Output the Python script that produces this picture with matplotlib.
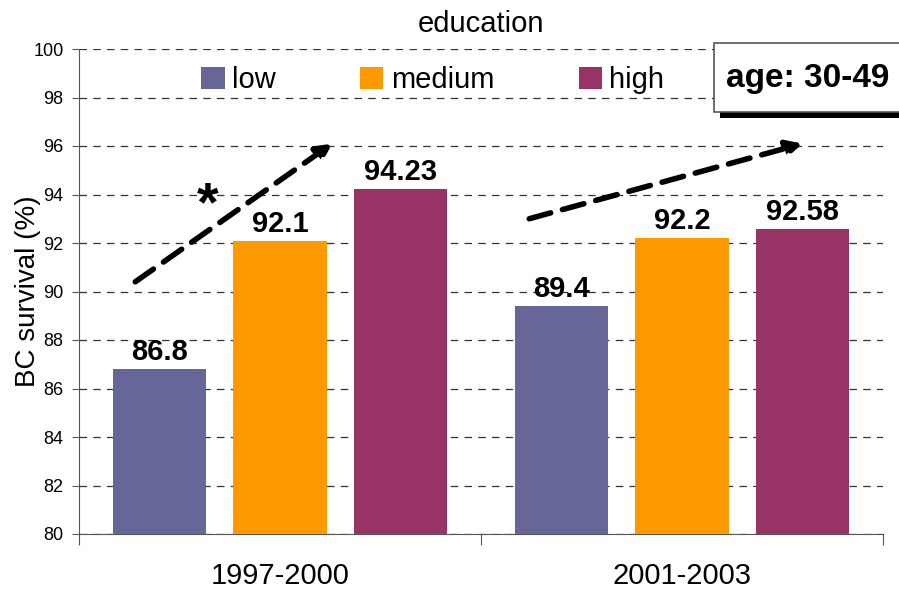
import matplotlib
matplotlib.use("Agg")
import matplotlib.pyplot as plt
import numpy as np

plt.rcParams['font.family'] = ['Liberation Sans', 'DejaVu Sans']

periods = ["1997-2000", "2001-2003"]
levels = ["low", "medium", "high"]
values = {
    "low": [86.8, 89.4],
    "medium": [92.1, 92.2],
    "high": [94.23, 92.58],
}
labels_txt = {
    "low": ["86.8", "89.4"],
    "medium": ["92.1", "92.2"],
    "high": ["94.23", "92.58"],
}
colors = {"low": "#666699", "medium": "#FF9900", "high": "#993366"}
yticks = [80, 82, 84, 86, 88, 90, 92, 94, 96, 98, 100]

# trend arrows (data coords)
arrow1 = [(-0.36, 90.4), (0.13, 96.1)]
arrow2 = [(0.62, 93.0), (1.30, 96.1)]

fig = plt.figure(figsize=(8.99, 5.89), dpi=100)
ax = fig.add_axes([79/899, 1-534/589, (883-79)/899, (534-49)/589])

x = np.arange(len(periods))
offsets = [-0.30, 0.0, 0.30]
width = 0.232
for off, lv in zip(offsets, levels):
    bars = ax.bar(x + off, values[lv], width, bottom=0, color=colors[lv], label=lv, zorder=3)
    for b, t in zip(bars, labels_txt[lv]):
        ax.annotate(t, (b.get_x() + b.get_width()/2, b.get_height()),
                    xytext=(0, 2), textcoords="offset points",
                    ha="center", va="bottom", fontsize=21, fontweight="bold", zorder=5)

ax.set_ylim(80, 100)
ax.set_xlim(-0.5, 1.5)
ax.set_yticks(yticks)
ax.set_yticklabels([str(v) for v in yticks], fontsize=13)
ax.yaxis.grid(True, linestyle=(0, (6, 5)), color="#333333", linewidth=0.9, zorder=0)
ax.set_axisbelow(True)
ax.set_xticks([-0.5, 0.5, 1.5], minor=False)
ax.set_xticklabels(["", "", ""])
ax.set_xticks(x, minor=True)
ax.set_xticklabels(periods, minor=True, fontsize=21)
ax.tick_params(axis="x", which="minor", length=0, pad=20)
ax.tick_params(axis="x", which="major", length=8, color="#555555")
ax.tick_params(axis="y", length=5, color="#555555", pad=6)
for s in ["top", "right"]:
    ax.spines[s].set_visible(False)
ax.spines["left"].set_color("#555555")
ax.spines["bottom"].set_color("#555555")
ax.set_ylabel("BC survival (%)", fontsize=20)
ax.yaxis.set_label_coords(-0.064, 0.5)
ax.yaxis.label.set_verticalalignment("center")
ax.set_title("education", fontsize=21, pad=12)

for (p0, p1) in [arrow1, arrow2]:
    ax.annotate("", xy=p1, xytext=p0,
                arrowprops=dict(arrowstyle="-|>,head_length=0.9,head_width=0.45",
                                linestyle=(0, (4, 2.2)), linewidth=4, color="black",
                                shrinkA=0, shrinkB=0), zorder=6)
ax.text(-0.18, 93.5, "*", fontsize=40, fontweight="bold", ha="center", va="center", zorder=6)

leg = ax.legend(loc="center", bbox_to_anchor=(0.44, 0.936), ncol=3, frameon=False,
                fontsize=21, handlelength=0.8, handleheight=0.8, columnspacing=2.9,
                handletextpad=0.25)

# age box with shadow
fig.patches.append(plt.Rectangle((720/899, 1-118/589), 200/899, 70/589, transform=fig.transFigure,
                                 facecolor="black", edgecolor="none", zorder=8))
fig.patches.append(plt.Rectangle((714/899, 1-112/589), 200/899, 69/589, transform=fig.transFigure,
                                 facecolor="white", edgecolor="#555555", linewidth=1.2, zorder=9))
fig.text(808/899, 1-79/589, "age: 30-49", fontsize=24, fontweight="bold",
         ha="center", va="center", zorder=10)

fig.savefig("out.png", dpi=100)
